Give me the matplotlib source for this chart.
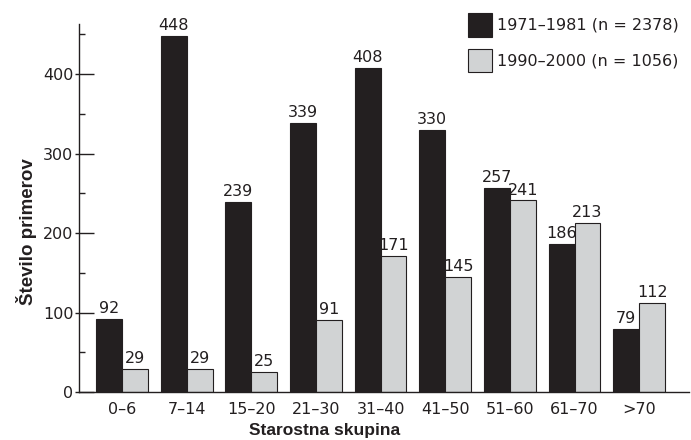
import matplotlib
matplotlib.use("Agg")
import matplotlib.pyplot as plt
import numpy as np
from matplotlib.ticker import MultipleLocator

plt.rcParams['font.family'] = ['DejaVu Sans']

categories = ["0\u20136", "7\u201314", "15\u201320", "21\u201330", "31\u201340",
              "41\u201350", "51\u201360", "61\u201370", ">70"]
series1_name = "1971\u20131981 (n = 2378)"
series2_name = "1990\u20132000 (n = 1056)"
series1 = [92, 448, 239, 339, 408, 330, 257, 186, 79]
series2 = [29, 29, 25, 91, 171, 145, 241, 213, 112]

INK = "#231f20"
fig = plt.figure(figsize=(6.91, 4.4), dpi=100)
ax = fig.add_axes([79/691, 1-392/440, (689-79)/691, (392-24)/440])

x = np.arange(len(categories))
w = 0.40
b1 = ax.bar(x - w/2, series1, w, color=INK, edgecolor=INK, linewidth=0.8, label=series1_name)
b2 = ax.bar(x + w/2, series2, w, color="#d1d3d4", edgecolor=INK, linewidth=0.8, label=series2_name)

for rects, vals in ((b1, series1), (b2, series2)):
    for r, v in zip(rects, vals):
        ax.annotate(str(v), (r.get_x() + r.get_width()/2, v), xytext=(0, 2),
                    textcoords="offset points", ha="center", va="bottom", fontsize=11.5, color=INK)

ax.set_xlim(-0.665, 8.77)
ax.set_ylim(0, 463)
ax.set_xticks(x)
ax.set_xticklabels(categories, fontsize=11.5)
ax.yaxis.set_major_locator(MultipleLocator(100))
ax.yaxis.set_minor_locator(MultipleLocator(50))
ax.tick_params(axis='y', which='major', direction='in', length=11, width=1, labelsize=11.5,
               colors=INK, pad=4)
ax.tick_params(axis='y', which='minor', direction='in', length=4, width=1, colors=INK)
ax.tick_params(axis='x', length=0, pad=7, colors=INK)
for s in ("top", "right"):
    ax.spines[s].set_visible(False)
for s in ("left", "bottom"):
    ax.spines[s].set_color(INK)
    ax.spines[s].set_linewidth(1)

# short outward stubs on major ticks
sec = ax.secondary_yaxis('left')
sec.set_yticks(np.arange(0, 401, 100))
sec.tick_params(direction='out', length=3, width=1, colors=INK, labelleft=False)
sec.spines['left'].set_visible(False)

ax.set_ylabel("\u0160tevilo primerov", fontsize=13.5, fontweight="bold", color=INK,
              family="Liberation Sans")
ax.yaxis.set_label_coords(-0.069, 0.435)
ax.set_xlabel("Starostna skupina", fontsize=12.5, fontweight="bold", color=INK,
              family="Liberation Sans")
ax.xaxis.set_label_coords(0.403, -0.084)

leg = ax.legend(loc="upper left", bbox_to_anchor=(468/691, 1-13/440), bbox_transform=fig.transFigure,
                frameon=False, fontsize=11.5, borderpad=0, borderaxespad=0,
                handlelength=1.5, handleheight=1.9, handletextpad=0.3, labelspacing=0.75)
for t in leg.get_texts():
    t.set_color(INK)

fig.savefig("out.png", dpi=100)
